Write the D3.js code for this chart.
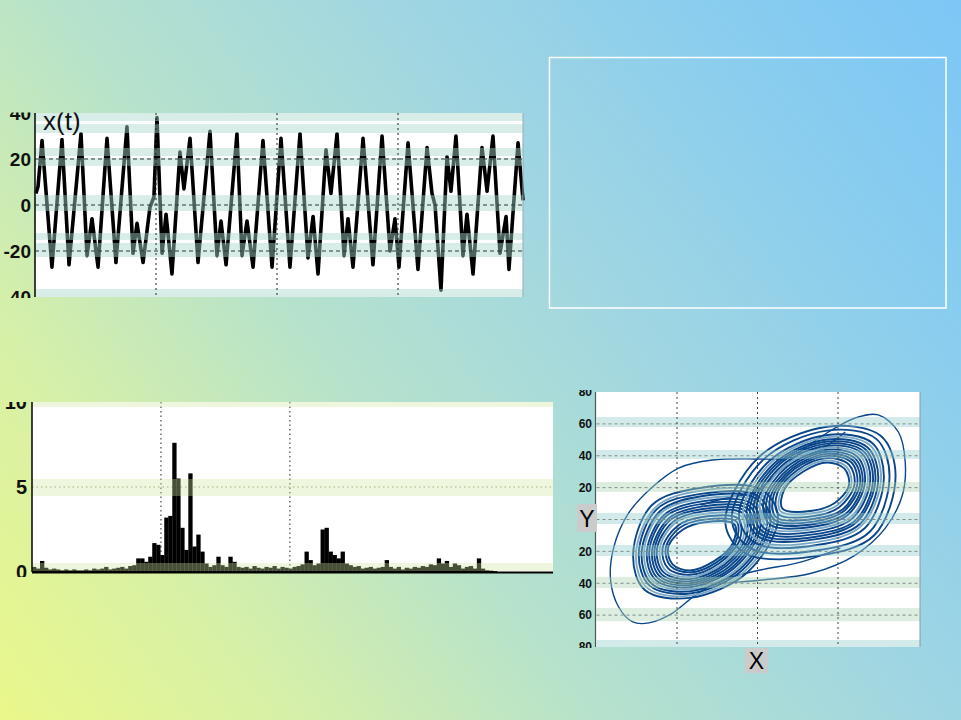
<!DOCTYPE html>
<html><head><meta charset="utf-8">
<script src="https://cdn.jsdelivr.net/npm/d3@7"></script>
<style>html,body{margin:0;padding:0;overflow:hidden;background:#fff} svg{display:block}</style>
</head><body><svg id="c" width="961" height="720"></svg>
<script>
// ---------- DATA ----------
// time series x(t)
const tsTime = [0.08,0.25,0.58,1.40,2.23,2.81,3.80,4.30,4.71,5.21,5.95,6.69,7.60,8.10,8.43,8.93,9.50,9.83,10.08,10.50,10.83,11.32,11.98,12.31,12.81,13.47,14.46,15.04,15.37,15.79,16.69,17.11,17.52,18.02,18.84,19.59,20.33,21.07,21.90,22.56,22.98,23.39,24.05,24.46,24.96,25.54,25.87,26.28,27.11,27.93,28.68,29.34,29.75,30.08,30.83,31.65,32.40,32.81,33.06,33.55,34.05,34.38,34.79,35.37,35.70,36.20,36.94,37.36,37.85,38.43,38.93,39.17,39.92,40.33];
const tsValue = [5,8,28,-27,28.5,-26,31,-22,-6,-27,29,-25,34,-21,-8,-25,-1,3.5,38,-21,-4,-30,23,7,29,-25,32,-22,-7,-26,31,-22,-7,-27,28,-27,29,-27,31,-23,-5,-30,24,5,31,-22,-6,-27,29,-26,30,-20,-6,-27,27,-28,25,5,0,-37,21,6,30,-22,-4,-30,25,6,30,-21,-5,-28,27,2];
const tsYTicks = [40,20,0,-20,-40];
const tsYLabels = ["40","20","0","-20","40"];
const tsGridY = [20,0,-20];
const tsGridX = [10,20,30];
const tsTitle = "x(t)";

// power spectrum (130 bins)
const specValues = [0.3,0.2,0.65,0.25,0.15,0.2,0.15,0.1,0.15,0.1, 0.15,0.1,0.1,0.15,0.1,0.2,0.15,0.2,0.3,0.15, 0.2,0.25,0.3,0.2,0.35,0.4,0.8,0.8,0.6,0.9, 1.7,1.6,1.0,3.2,3.3,7.6,5.5,2.6,1.3,5.8, 1.5,2.2,1.2,0.5,0.3,0.4,0.9,0.4,0.3,0.9, 0.6,0.3,0.25,0.3,0.2,0.35,0.25,0.2,0.3,0.25, 0.35,0.2,0.3,0.25,0.2,0.3,0.35,0.45,1.2,0.7, 0.4,0.5,2.5,2.6,1.2,1.0,0.8,1.2,0.5,0.4, 0.3,0.35,0.2,0.25,0.3,0.2,0.25,0.3,0.7,0.3, 0.2,0.3,0.15,0.25,0.2,0.3,0.25,0.35,0.3,0.45, 0.4,0.8,0.5,0.65,0.3,0.5,0.4,0.2,0.3,0.35, 0.2,0.8,0.2,0.1,0.08,0.05,0,0,0,0, 0,0,0,0,0,0,0,0,0,0];
const specFreqMax = 0.404;
const specYTicks = [10,5,0];
const specGridY = [5];
const specGridX = [0.1,0.2];

// phase portrait (X, Y)
const phaseYTicks = [80,60,40,20,0,-20,-40,-60,-80];
const phaseYLabels = ["80","60","40","20","","20","40","60","80"];
const phaseGridY = [60,40,20,0,-20,-40,-60];
const phaseGridX = [-20,0,20];
const leftLoops = [
  [[-13.1,-1.7],[-5.7,-3],[-6.2,-15.2],[-10.9,-26.3],[-16.8,-32],[-21.1,-28.1],[-22.2,-17.5],[-18.6,-6.4]],
  [[-13.2,-0.1],[-5.2,-1.4],[-5.4,-14],[-10.2,-26.9],[-16.8,-33.2],[-21.6,-29.3],[-22.8,-17.9],[-19.4,-5.3]],
  [[-13.3,1.7],[-4.7,0.4],[-4.4,-12.6],[-9.5,-27.4],[-16.8,-34.7],[-22.2,-30.7],[-23.6,-18.3],[-19.8,-3.9]],
  [[-13.4,3.5],[-4.1,2.3],[-3.5,-11.2],[-8.8,-28],[-16.8,-36.1],[-22.8,-32.1],[-24.3,-18.6],[-20.7,-2.6]],
  [[-13.5,5.1],[-3.6,3.8],[-2.7,-10.1],[-8.2,-28.4],[-16.8,-37.4],[-23.3,-33.2],[-25,-19],[-21,-1.5]],
  [[-13.6,6.6],[-3.1,5.4],[-1.8,-8.9],[-7.6,-28.9],[-16.8,-38.7],[-23.8,-34.4],[-25.6,-19.4],[-21.7,-0.4]],
  [[-13.6,8.2],[-2.6,7],[-1,-7.7],[-6.9,-29.4],[-16.8,-40],[-24.3,-35.6],[-26.2,-19.7],[-22,0.8]],
  [[-13.7,9.8],[-2.1,8.6],[-0.1,-6.5],[-6.3,-29.9],[-16.8,-41.2],[-24.8,-36.8],[-26.9,-20.1],[-22.8,1.9]],
  [[-13.8,11.4],[-1.5,10.1],[0.7,-5.3],[-5.7,-30.3],[-16.8,-42.5],[-25.3,-38],[-27.5,-20.4],[-23.1,3.1]],
  [[-13.9,13],[-1,11.7],[1.5,-4.1],[-5,-30.9],[-16.8,-43.8],[-25.8,-39.1],[-28.2,-20.8],[-23.9,4.2]],
  [[-14,14.6],[-0.5,13.3],[2.4,-3],[-4.4,-31.3],[-16.8,-45.1],[-26.3,-40.3],[-28.8,-21.1],[-24.2,5.3]],
  [[-14.1,16.1],[0,14.9],[3.2,-1.8],[-3.8,-31.8],[-16.8,-46.4],[-26.8,-41.5],[-29.5,-21.5],[-25,6.5]],
  [[-14.2,18],[0.5,16.7],[4.1,-0.4],[-3.1,-32.4],[-16.8,-47.8],[-27.4,-42.9],[-30.2,-21.9],[-25.3,7.8]],
  [[-14.3,19.8],[1.1,18.5],[5.1,0.9],[-2.4,-32.9],[-16.8,-49.2],[-28,-44.2],[-30.9,-22.3],[-26.2,9.1]]
];
const leftLoopTone = ["dark","dark","dark","light","dark","dark","dark","dark","dark","light","dark","dark","light","dark"];
const rightLoops = [
  [[13.6,5.5],[6.2,6.8],[6.7,19],[11.4,30.1],[17.3,35.8],[21.6,31.9],[22.7,21.3],[19.1,10.2]],
  [[13.7,3.9],[5.7,5.2],[5.9,17.8],[10.7,30.7],[17.3,37],[22.1,33.1],[23.3,21.7],[19.9,9.1]],
  [[13.8,2.1],[5.2,3.4],[4.9,16.4],[10,31.2],[17.3,38.5],[22.7,34.5],[24.1,22.1],[20.3,7.7]],
  [[13.9,0.3],[4.6,1.5],[4,15],[9.3,31.8],[17.3,39.9],[23.3,35.9],[24.8,22.4],[21.2,6.4]],
  [[14,-1.3],[4.1,0],[3.2,13.9],[8.7,32.2],[17.3,41.2],[23.8,37],[25.5,22.8],[21.5,5.3]],
  [[14.1,-2.8],[3.6,-1.6],[2.3,12.7],[8.1,32.7],[17.3,42.5],[24.3,38.2],[26.1,23.2],[22.2,4.2]],
  [[14.1,-4.4],[3.1,-3.2],[1.5,11.5],[7.4,33.2],[17.3,43.8],[24.8,39.4],[26.7,23.5],[22.5,3]],
  [[14.2,-6],[2.6,-4.8],[0.6,10.3],[6.8,33.7],[17.3,45],[25.3,40.6],[27.4,23.9],[23.3,1.9]],
  [[14.3,-7.6],[2,-6.3],[-0.2,9.1],[6.2,34.1],[17.3,46.3],[25.8,41.8],[28,24.2],[23.6,0.7]],
  [[14.4,-9.2],[1.5,-7.9],[-1,7.9],[5.5,34.7],[17.3,47.6],[26.3,42.9],[28.7,24.6],[24.4,-0.4]],
  [[14.5,-10.8],[1,-9.5],[-1.9,6.8],[4.9,35.1],[17.3,48.9],[26.8,44.1],[29.3,24.9],[24.7,-1.5]],
  [[14.6,-12.3],[0.5,-11.1],[-2.7,5.6],[4.3,35.6],[17.3,50.2],[27.3,45.3],[30,25.3],[25.5,-2.7]],
  [[14.7,-14.2],[0,-12.9],[-3.6,4.2],[3.6,36.2],[17.3,51.6],[27.9,46.7],[30.7,25.7],[25.8,-4]],
  [[14.8,-16],[-0.6,-14.7],[-4.6,2.9],[2.9,36.7],[17.3,53],[28.5,48],[31.4,26.1],[26.7,-5.3]],
  [[15,-19.3],[-1.7,-18.1],[-6.4,0.3],[1.5,37.7],[17.3,55.8],[29.5,50.6],[32.8,26.8],[27.9,-7.7]],
  [[15.2,-22.7],[-2.8,-21.5],[-8,-1.9],[0.2,38.8],[17.3,58.2],[30.6,52.5],[34.3,27.6],[29,-9.9]]
];
const rightLoopTone = ["dark","light","dark","dark","dark","dark","dark","light","dark","dark","dark","dark","light","dark","dark","dark"];
const outerPaths = [
  [[21.8,54.9],[14.4,42.3],[5.7,38],[0.2,38],[-11.2,37.3],[-19.6,32.3],[-26.1,20.4],[-32,4.1],[-35.7,-17.3],[-36.5,-38],[-34.5,-54.9],[-31,-64.3],[-27,-64.9],[-21.1,-58.7],[-15.4,-47.4],[-8.7,-38],[0.7,-31.7],[10.7,-26.7],[20.6,-17.9]],
  [[-14.1,9.1],[-6.7,14.1],[-0.5,17.3],[5.2,29.8],[11.9,44.9],[17.6,54.9],[24.3,63.7],[30,65.6],[35,54.9],[36.7,36.1],[36,15.4],[31.8,-5.3],[24.3,-22.3],[13.6,-33.6],[1.2,-38],[-7.9,-39.8],[-14.1,-41.1]]
];

// ---------- DRAW ----------
const svg = d3.select('#c');
const defs = svg.append('defs');
const grad = defs.append('linearGradient').attr('id','bg')
  .attr('gradientUnits','userSpaceOnUse').attr('x1',0).attr('y1',720).attr('x2',961).attr('y2',0);
[[0,'rgb(234,247,138)'],[0.2,'rgb(214,240,168)'],[0.4,'rgb(182,226,204)'],[0.62,'rgb(160,214,226)'],[0.82,'rgb(138,205,238)'],[1,'rgb(124,199,246)']]
  .forEach(s=>grad.append('stop').attr('offset',s[0]).attr('stop-color',s[1]));
svg.append('rect').attr('width',961).attr('height',720).attr('fill','url(#bg)');

function clip(id,x,y,w,h){defs.append('clipPath').attr('id',id).append('rect').attr('x',x).attr('y',y).attr('width',w).attr('height',h);}
clip('c1',0,112.5,526,185.5);
clip('c2',0,402,556,175);
clip('c3',560,390,365,258);

// empty framed box (top right)
svg.append('rect').attr('x',549.5).attr('y',57.5).attr('width',396.5).attr('height',250.5)
  .attr('fill','none').attr('stroke','#fff').attr('stroke-width',1.5);

const font = "'Liberation Sans', Arial, sans-serif";

// ===== Chart 1 : x(t) =====
const x1 = d3.scaleLinear().domain([0,40.33]).range([35,523]);
const y1 = d3.scaleLinear().domain([-40,40]).range([297,113]);
const g1 = svg.append('g').attr('clip-path','url(#c1)');
g1.append('rect').attr('x',x1(0)).attr('y',y1(40)).attr('width',x1(40.33)-x1(0)).attr('height',y1(-40)-y1(40)).attr('fill','#fff');
const line1 = d3.line().x((d,i)=>x1(tsTime[i])).y(d=>y1(d)).curve(d3.curveLinear);
g1.append('path').datum(tsValue).attr('d',line1).attr('fill','none').attr('stroke','#000')
  .attr('stroke-width',3.6).attr('stroke-linejoin','round');
[[40,36.5],[35.2,31.3],[24.8,21.3],[20.4,17],[4.3,-2.6],[-12.2,-15.2],[-16.5,-22.6],[-36.5,-40]].forEach(b=>{
  g1.append('rect').attr('x',x1(0)).attr('width',x1(40.33)-x1(0)).attr('y',y1(b[0])).attr('height',y1(b[1])-y1(b[0]))
    .attr('fill','rgb(170,214,204)').attr('opacity',0.45);
});
g1.selectAll('.gy').data(tsGridY).enter().append('line').attr('x1',x1(0)).attr('x2',x1(40.33)).attr('y1',d=>y1(d)).attr('y2',d=>y1(d))
  .attr('stroke','#2a3a36').attr('stroke-width',1).attr('stroke-dasharray','4,3');
g1.selectAll('.gx').data(tsGridX).enter().append('line').attr('x1',d=>x1(d)).attr('x2',d=>x1(d)).attr('y1',y1(40)).attr('y2',y1(-40))
  .attr('stroke','#222').attr('stroke-width',1).attr('stroke-dasharray','2,3');
g1.append('line').attr('x1',x1(0)).attr('x2',x1(0)).attr('y1',y1(40)).attr('y2',y1(-40)).attr('stroke','#111').attr('stroke-width',1.6);
g1.append('line').attr('x1',x1(40.33)).attr('x2',x1(40.33)).attr('y1',y1(40)).attr('y2',y1(-40)).attr('stroke','#9ab').attr('stroke-width',1);
g1.selectAll('.ty').data(tsYTicks).enter().append('text').attr('x',31).attr('y',d=>y1(d)).attr('dy','0.36em')
  .attr('text-anchor','end').attr('font-family',font).attr('font-size',19).attr('font-weight','bold').attr('fill','#111')
  .text((d,i)=>tsYLabels[i]);
g1.append('text').attr('x',43).attr('y',130).attr('font-family',font).attr('font-size',26).attr('fill','#111').text(tsTitle);

// ===== Chart 2 : spectrum =====
const x2 = d3.scaleLinear().domain([0,specFreqMax]).range([32,553]);
const y2 = d3.scaleLinear().domain([0,10]).range([572,402]);
const df = specFreqMax/specValues.length;
const g2 = svg.append('g').attr('clip-path','url(#c2)');
g2.append('rect').attr('x',x2(0)).attr('y',y2(10)).attr('width',x2(specFreqMax)-x2(0)).attr('height',y2(0)-y2(10)).attr('fill','#fff');
g2.selectAll('.gx').data(specGridX).enter().append('line').attr('x1',d=>x2(d)).attr('x2',d=>x2(d)).attr('y1',y2(10)).attr('y2',y2(0))
  .attr('stroke','#222').attr('stroke-width',1).attr('stroke-dasharray','1.5,3');
g2.selectAll('.gy').data(specGridY).enter().append('line').attr('x1',x2(0)).attr('x2',x2(specFreqMax)).attr('y1',d=>y2(d)).attr('y2',d=>y2(d))
  .attr('stroke','#8a9a70').attr('stroke-width',1).attr('stroke-dasharray','1.5,3');
g2.selectAll('.bar').data(specValues).enter().append('rect')
  .attr('x',(d,i)=>x2(i*df)).attr('width',x2(df)-x2(0)+0.3)
  .attr('y',d=>y2(d)).attr('height',d=>y2(0)-y2(d)).attr('fill','#000');
[[10,9.7],[5.47,4.47],[0.53,0.06]].forEach(b=>{
  g2.append('rect').attr('x',x2(0)).attr('width',x2(specFreqMax)-x2(0)).attr('y',y2(b[0])).attr('height',y2(b[1])-y2(b[0]))
    .attr('fill','rgb(205,228,160)').attr('opacity',0.35);
});
g2.append('line').attr('x1',x2(0)).attr('x2',x2(specFreqMax)).attr('y1',y2(0)+0.5).attr('y2',y2(0)+0.5).attr('stroke','#000').attr('stroke-width',2);
g2.append('line').attr('x1',x2(0)).attr('x2',x2(0)).attr('y1',y2(10)).attr('y2',y2(0)).attr('stroke','#111').attr('stroke-width',1.6);
g2.selectAll('.ty').data(specYTicks).enter().append('text').attr('x',27).attr('y',d=>y2(d)).attr('dy','0.36em')
  .attr('text-anchor','end').attr('font-family',font).attr('font-size',20).attr('font-weight','bold').attr('fill','#111').text(d=>d);

// ===== Chart 3 : phase portrait =====
const x3 = d3.scaleLinear().domain([-40,40]).range([596.5,918.5]);
const y3 = d3.scaleLinear().domain([-80,80]).range([647,392]);
const g3 = svg.append('g').attr('clip-path','url(#c3)');
g3.append('rect').attr('x',x3(-40)-0.5).attr('y',y3(80)).attr('width',x3(40)-x3(-40)+2).attr('height',y3(-80)-y3(80)).attr('fill','#fff');
const loopLine = d3.line().x(d=>x3(d[0])).y(d=>y3(d[1])).curve(d3.curveCatmullRomClosed.alpha(0.5));
const openLine = d3.line().x(d=>x3(d[0])).y(d=>y3(d[1])).curve(d3.curveCatmullRom.alpha(0.5));
const tone = {dark:'#0a468a', light:'#7aa7c4'};
g3.selectAll('.op').data(outerPaths).enter().append('path').attr('d',openLine).attr('fill','none')
  .attr('stroke',tone.dark).attr('stroke-width',1.4);
g3.selectAll('.lo').data(leftLoops).enter().append('path').attr('d',loopLine).attr('fill','none')
  .attr('stroke',(d,i)=>tone[leftLoopTone[i]]).attr('stroke-width',1.9);
g3.selectAll('.ro').data(rightLoops).enter().append('path').attr('d',loopLine).attr('fill','none')
  .attr('stroke',(d,i)=>tone[rightLoopTone[i]]).attr('stroke-width',1.9);
[[64.3,58,'t'],[43.6,38,'t'],[23.5,17.3,'g'],[4.1,-2.8,'t'],[-16,-22.9,'t'],[-36,-43,'g'],[-55.5,-63.8,'g'],[-75.6,-80,'t']].forEach(b=>{
  g3.append('rect').attr('x',x3(-40)).attr('width',x3(40)-x3(-40)+1.5).attr('y',y3(b[0])).attr('height',y3(b[1])-y3(b[0]))
    .attr('fill',b[2]==='t'?'rgb(150,204,204)':'rgb(175,214,180)').attr('opacity',0.42);
});
g3.selectAll('.gy').data(phaseGridY).enter().append('line').attr('x1',x3(-40)).attr('x2',x3(40)+1.5).attr('y1',d=>y3(d)).attr('y2',d=>y3(d))
  .attr('stroke','#7d8f88').attr('stroke-width',1).attr('stroke-dasharray','3,3');
g3.selectAll('.gx').data(phaseGridX).enter().append('line').attr('x1',d=>x3(d)).attr('x2',d=>x3(d)).attr('y1',y3(80)).attr('y2',y3(-80))
  .attr('stroke','#444').attr('stroke-width',1).attr('stroke-dasharray','2,3');
g3.append('line').attr('x1',x3(-40)-1).attr('x2',x3(-40)-1).attr('y1',y3(80)).attr('y2',y3(-80)).attr('stroke','#4a5a50').attr('stroke-width',1.2);
g3.append('line').attr('x1',x3(40)+1.5).attr('x2',x3(40)+1.5).attr('y1',y3(80)).attr('y2',y3(-80)).attr('stroke','#8a9aa0').attr('stroke-width',1);
g3.selectAll('.ty').data(phaseYTicks.filter((d,i)=>phaseYLabels[i]!=="")).enter().append('text').attr('x',592).attr('y',d=>y3(d)).attr('dy','0.36em')
  .attr('text-anchor','end').attr('font-family',font).attr('font-size',12).attr('font-weight','bold').attr('fill','#111')
  .text(d=>phaseYLabels[phaseYTicks.indexOf(d)]);
// axis name boxes
const yBox = svg.append('g');
yBox.append('rect').attr('x',577).attr('y',504).attr('width',20).attr('height',28).attr('fill','#cbcbcb');
yBox.append('text').attr('x',587).attr('y',527).attr('text-anchor','middle').attr('font-family',font).attr('font-size',23).attr('fill','#000').text('Y');
const xBox = svg.append('g');
xBox.append('rect').attr('x',745).attr('y',648).attr('width',23).attr('height',25).attr('fill','#cbcbcb');
xBox.append('text').attr('x',756.5).attr('y',669).attr('text-anchor','middle').attr('font-family',font).attr('font-size',23).attr('fill','#000').text('X');
</script></body></html>
